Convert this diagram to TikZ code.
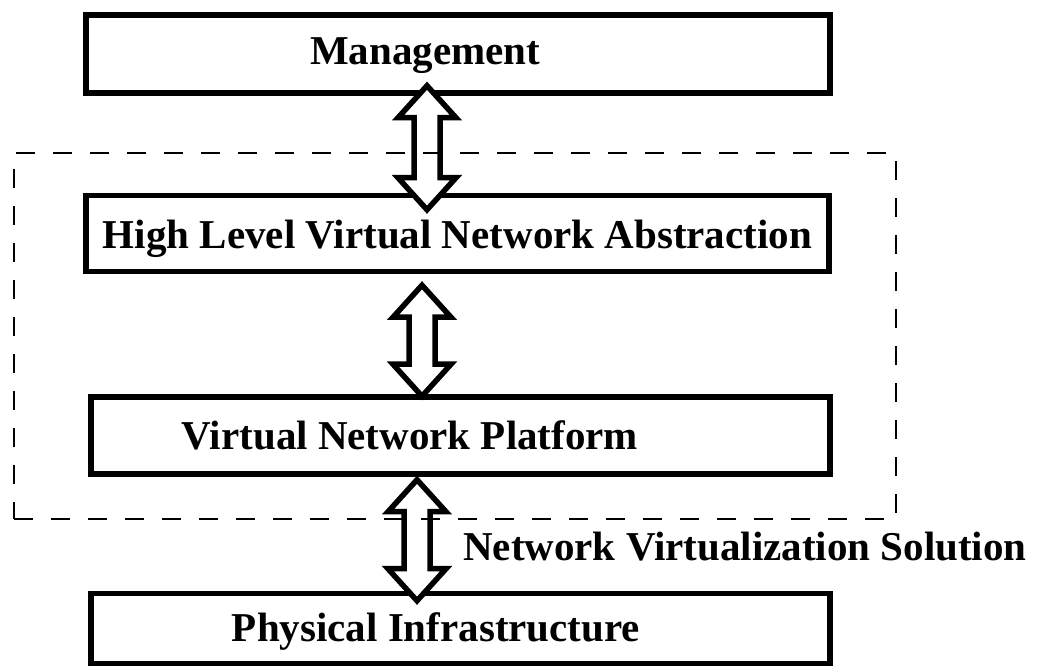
\documentclass[tikz,border=0pt]{standalone}
\usepackage{fontspec}
\setmainfont{Liberation Serif}
\usetikzlibrary{calc,positioning}

% hollow two-headed arrow between two points (x taken from the first)
\newcommand\twoway[2]{\draw[fat] let \p1=#1, \p2=#2 in
  (\x1,\y1) -- (\x1+29pt,\y1-32pt) -- (\x1+13pt,\y1-32pt) -- (\x1+13pt,\y2+32pt)
  -- (\x1+29pt,\y2+32pt) -- (\x1,\y2) -- (\x1-29pt,\y2+32pt) -- (\x1-13pt,\y2+32pt)
  -- (\x1-13pt,\y1-32pt) -- (\x1-29pt,\y1-32pt) -- cycle;}

\begin{document}
\begin{tikzpicture}[x=1pt,y=1pt,
  label text/.style={font=\fontsize{41}{48}\selectfont\bfseries,inner sep=0pt,text height=29pt,text depth=9pt},
  layer/.style={draw,line width=5.5pt,inner sep=0pt},
  fat/.style={draw,fill=white,line width=5.5pt,line join=miter}]
\useasboundingbox (0,0) rectangle (1042,669);
\node[layer,minimum width=744pt,minimum height=78pt] (mgmt) at (458,615) {};
\node[layer,minimum width=743pt,minimum height=76pt,below=97pt of mgmt,xshift=-0.5pt] (hlvna) {};
\node[layer,minimum width=739pt,minimum height=77pt,below=120pt of hlvna,xshift=3pt] (vnp) {};
\node[layer,minimum width=739pt,minimum height=70pt,below=114pt of vnp] (phys) {};
% the arrows sit over the box borders
\twoway{($(mgmt.south)+(-31,10)$)}{($(hlvna.north)+(0,-17)$)}
\twoway{($(hlvna.south)+(-35.5,-11)$)}{($(vnp.north)+(0,-2)$)}
\twoway{($(vnp.south)+(-43.5,-3)$)}{($(phys.north)+(0,-10)$)}
\node[draw,line width=2pt,dash pattern=on 19pt off 18pt,minimum width=882pt,minimum height=366pt] (nvs) at (455,333) {};
\node[label text] (mgmttxt) at ($(mgmt)+(-33,-1)$) {Management};
\node[label text] (hlvnatxt) at ($(hlvna)+(0,-5)$) {High Level Virtual Network Abstraction};
\node[label text] (vnptxt) at ($(vnp)+(-50.5,-4)$) {Virtual Network Platform};
\node[label text] (phystxt) at ($(phys)+(-24.5,-3)$) {Physical Infrastructure};
\node[label text,anchor=west] (nvstxt) at (463,118) {Network Virtualization Solution};
\end{tikzpicture}
\end{document}
